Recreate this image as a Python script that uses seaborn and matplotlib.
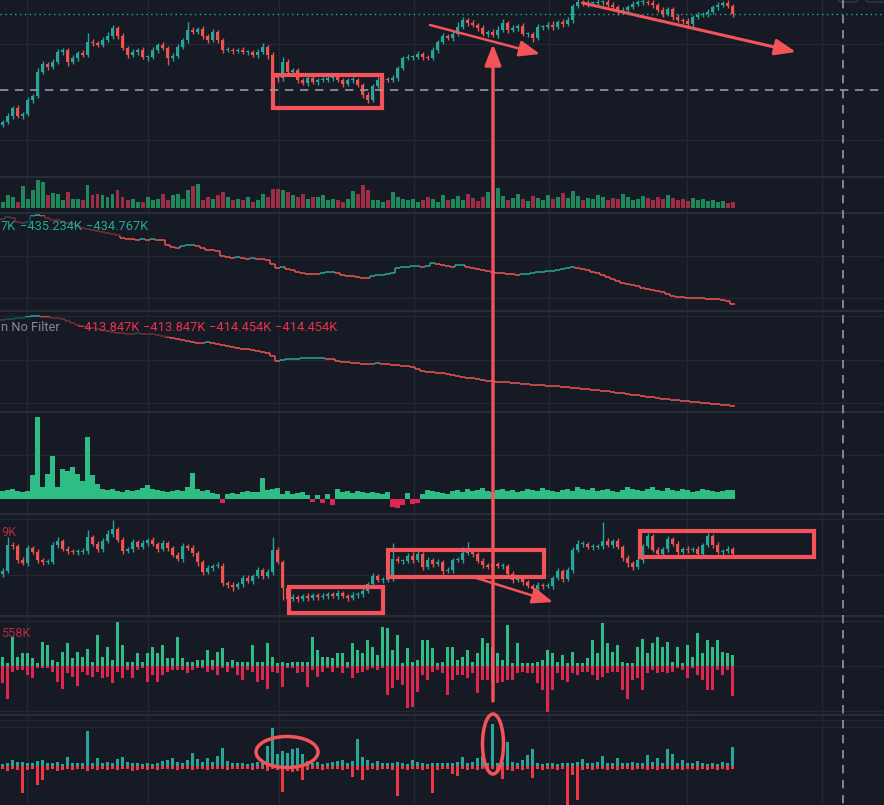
import numpy as np
import pandas as pd
import matplotlib
matplotlib.use("Agg")
import matplotlib.pyplot as plt
import seaborn as sns
from matplotlib.collections import LineCollection
from matplotlib.patches import Rectangle, Ellipse, FancyArrowPatch, FancyBboxPatch

# ---------------- data (arbitrary units) ----------------
price_open0 = 52
price_close = [55,61,69,61,63,77,81,105,113,110, 115,125,127,115,119,124,122,135,134,132,
               137,141,149,141,129,122,125,127,120,120, 127,132,129,119,121,130,137,147,145,148,
               141,137,145,137,127,127,126,127,125,125, 122,125,130,122,102,99,115,105,107,97,
               94,99,95,97,97,99,100,97,93,97, 97,92,82,77,91,97,98,97,99,109,
               119,120,120,123,120,119,127,135,141,139, 143,150,157,154,152,149,143,145,142,147,
               154,147,149,151,143,143,139,150,150,152, 150,155,153,157,171,175,173,174,174,175,
               175,172,170,165,167,170,173,175,175,174, 172,167,163,168,160,157,156,153,160,162,
               163,165,170,172,174,171,163]
price_upwick = [2,3,2,3,2,3,2,4,3,2, 3,3,2,2,3,2,3,9,3,2, 3,4,3,2,3,2,3,2,3,2,
                3,2,3,2,3,3,2,8,3,2, 3,2,3,2,2,3,2,2,3,2, 2,3,4,2,3,2,5,3,2,2,
                2,3,2,2,3,2,2,3,2,2, 3,2,2,3,2,3,2,2,3,2, 2,3,2,3,2,2,3,2,3,2,
                3,5,3,2,3,2,3,2,3,4, 4,2,3,2,3,2,2,3,2,3, 4,2,3,3,2,3,2,3,2,3,
                2,3,3,2,3,2,3,2,3,2, 3,2,3,2,2,3,2,3,2,3, 2,3,2,3,2,3,2]
price_lowick = [2,2,3,2,3,2,3,2,2,3, 2,2,3,4,2,3,2,2,3,2, 2,2,3,3,2,3,2,3,2,4,
                2,3,2,7,3,2,2,3,2,2, 3,3,2,3,3,2,3,2,2,3, 2,3,2,4,5,4,3,2,3,3,
                2,3,2,3,2,2,3,2,3,2, 3,2,3,3,2,2,3,2,2,3, 2,2,3,2,3,2,2,3,2,2,
                3,2,2,3,2,3,2,3,2,3, 2,3,2,3,2,3,4,2,3,2, 3,2,3,2,3,2,2,3,2,2,
                3,2,2,3,2,3,2,2,3,2, 3,2,3,2,3,2,3,2,3,2, 2,3,2,3,2,2,3]
volume = [6,13,11,6,22,9,18,28,26,13, 15,14,8,16,9,9,8,23,13,14, 13,11,14,18,11,8,9,6,6,11,
          8,9,14,8,13,14,9,18,22,24, 8,11,9,13,16,11,8,9,8,11, 6,8,14,11,19,19,18,16,13,11,
          14,9,11,11,13,8,9,8,6,9, 17,14,23,18,8,8,6,8,16,11, 9,8,9,6,8,11,9,6,13,8,
          9,12,8,14,10,7,11,16,9,20, 12,8,10,14,9,7,12,10,8,13, 9,11,15,10,17,12,8,10,9,13,
          11,8,10,9,14,11,8,9,12,10, 8,11,9,13,10,8,9,7,10,8, 9,7,8,6,7,5,6]
line_a = [92,94,93,89,88,89,95,96,95,93, 91,91,89,88,87,85,83,82,81,80,
          79,78,77,76,73,72,72,71,72,71, 72,71,71,66,64,63,65,66,66,65,
          63,61,61,60,55,54,53,54,53,52, 53,52,52,51,47,43,44,42,41,39,
          38,37,37,37,38,39,39,38,36,35, 35,34,33,33,35,36,36,37,38,43,
          44,44,45,45,44,45,48,47,46,45, 44,46,46,44,43,42,41,40,39,38,
          38,37,37,36,37,37,38,39,39,40, 40,41,42,43,44,43,42,41,39,38,
          36,34,32,30,28,27,26,25,23,22, 21,20,19,17,15,14,14,13,13,13,
          13,12,12,12,11,10,7]
line_b = [92,93,93,94,94,95,96,96,95,95, 94,94,93,91,89,87,86,85,84,83,
          82,81,80,79,79,78,78,79,78,78, 78,77,76,75,74,73,72,71,70,69,
          69,70,69,68,67,66,65,64,63,63, 62,61,60,59,56,51,52,53,53,53,
          54,54,54,54,54,53,53,51,50,50, 49,49,48,48,48,49,48,48,47,47,
          46,46,45,43,41,40,40,39,39,38, 37,36,35,34,34,33,32,31,31,30,
          30,30,29,29,28,28,27,27,27,26, 26,26,25,25,24,24,23,23,22,22,
          21,21,20,19,19,18,17,17,16,15, 15,14,13,13,12,12,11,11,10,10,
          9,9,8,8,7,7,6]
flow = [8,9,10,8,7,8,24,82,12,25, 43,12,30,28,32,25,18,62,24,15,
        10,9,10,8,7,9,8,9,11,14, 10,9,8,7,8,9,8,12,26,10,
        8,9,6,5,-4,5,6,5,7,8, 7,7,21,9,10,11,5,8,5,6,
        7,4,-3,4,-4,5,-6,10,7,8, 6,8,7,6,7,6,5,7,-8,-9,
        -6,6,-5,-4,5,9,8,7,6,5, 8,9,7,10,8,9,11,8,7,9,
        10,8,9,7,8,10,9,8,11,9, 8,7,9,10,8,12,10,9,11,8,
        9,10,8,7,9,12,10,9,8,10, 12,9,8,11,9,8,10,9,7,8,
        10,9,8,7,8,9,9]
sub_open0 = 42
sub_close = [45,71,70,56,53,68,64,56,54,54, 71,75,67,65,64,64,65,79,72,67,
             75,82,87,76,65,67,74,69,73,76, 72,67,73,68,61,57,70,68,63,54,
             44,48,50,50,33,31,29,32,38,35, 40,46,40,44,66,54,28,17,19,17,
             20,18,21,19,20,22,20,23,20,18, 21,22,25,32,40,36,36,38,57,55,
             55,60,56,62,49,56,52,54,45,46, 56,56,63,64,62,55,51,49,52,50,
             50,42,36,38,34,30,27,31,30,30, 38,45,37,46,66,72,72,69,69,70,
             75,71,75,69,58,53,49,56,70,80, 66,62,67,77,72,64,67,66,67,62,
             71,80,71,64,65,67,62]
sub_upwick = [3,8,3,2,3,3,2,3,2,3, 3,4,2,3,2,3,3,7,2,3, 3,4,9,2,3,2,3,2,3,2,
              3,2,3,2,2,3,3,2,3,2, 2,3,2,4,3,2,3,2,3,3, 2,3,2,3,13,3,2,2,3,2,
              2,3,2,2,3,2,2,3,2,2, 3,2,3,2,3,2,3,2,16,3, 2,3,4,3,2,3,2,3,2,3,
              2,3,6,10,3,2,3,2,3,2, 3,2,3,2,3,2,2,3,2,3, 2,3,2,3,3,4,3,2,3,2,
              19,3,2,3,2,3,2,3,2,3, 2,3,2,3,2,3,2,3,2,3, 2,3,2,3,2,3,2]
sub_lowick = [3,2,3,3,2,3,2,3,3,2, 2,3,2,3,2,3,2,3,2,3, 3,2,3,2,3,2,3,2,2,3,
              2,3,2,3,2,2,3,2,3,4, 3,2,3,2,3,3,4,2,3,2, 3,2,3,2,3,2,12,3,2,3,
              2,3,2,3,2,3,2,3,2,3, 2,3,3,2,3,2,3,2,3,2, 3,2,3,2,3,2,3,2,3,2,
              3,2,3,2,3,2,3,2,3,2, 3,2,3,2,3,2,3,2,3,2, 3,2,3,2,3,2,3,2,3,2,
              3,2,3,2,3,4,3,2,3,2, 2,3,2,3,2,3,2,3,2,3, 3,2,3,2,3,2,2]
delta_buy = [9,3,29,9,13,13,8,3,24,21, 6,4,14,23,8,14,9,17,4,31, 9,19,6,44,21,4,4,13,4,13,
             19,13,21,8,8,29,8,4,4,6, 6,16,6,14,18,4,6,4,4,4, 21,4,4,23,9,3,4,3,4,4,
             4,4,29,16,9,9,8,13,13,4, 23,16,13,26,19,11,39,38,16,31, 3,18,4,6,26,26,18,3,4,19,
             19,6,9,16,4,13,28,23,19,13, 6,41,3,23,3,3,3,4,6,16, 13,4,11,3,14,3,3,8,26,13,
             43,23,14,21,4,3,3,19,27,13, 23,29,19,24,4,19,3,21,9,33, 13,26,19,26,14,13,11]
delta_sell = [17,33,6,4,4,9,12,2,2,2, 6,16,23,7,11,20,6,9,11,6, 12,11,17,6,12,4,12,4,2,16,
              9,16,9,6,4,4,4,7,4,2, 2,6,4,9,2,6,2,9,14,4, 6,16,14,23,6,7,21,2,2,7,
              6,21,4,11,6,2,6,2,7,2, 12,7,6,4,2,4,2,29,22,14, 19,42,41,26,9,14,6,4,7,29,
              14,9,9,12,7,27,14,14,16,17, 16,14,14,7,6,7,7,17,24,46, 24,7,14,16,7,9,6,6,9,14,
              11,7,6,6,24,33,14,12,24,7, 4,7,6,7,6,2,4,12,2,9, 14,24,24,4,9,4,30]
spike_buy = [2,3,6,4,4,3,3,5,6,3, 3,4,2,9,3,3,3,35,3,8, 3,4,3,7,9,4,3,3,2,3,
             2,3,5,6,8,4,3,6,13,7, 4,8,4,10,18,5,3,3,3,2, 3,4,3,20,38,12,15,13,17,18,
             12,5,3,4,2,3,4,5,6,3, 5,27,9,6,3,5,3,3,3,4, 3,2,6,4,3,2,3,3,3,3,
             3,4,9,3,4,8,10,3,42,3, 4,24,4,3,6,11,17,3,2,3, 3,2,3,3,3,4,7,3,3,4,
             10,3,3,8,3,3,4,3,3,11, 4,8,3,17,12,3,6,3,3,5, 3,2,3,2,4,3,19]
spike_sell = [3,5,3,4,27,4,3,19,14,4, 3,5,4,3,4,3,3,5,3,4, 3,4,3,4,3,3,5,4,3,4,
              3,4,3,3,3,4,3,3,4,3, 3,4,3,3,3,4,3,3,3,3, 4,3,3,5,3,4,26,5,6,5,
              14,4,3,3,4,3,3,3,4,3, 11,4,14,4,3,4,3,3,4,30, 3,4,3,3,4,3,27,4,3,3,
              8,10,3,4,3,4,3,4,3,4, 13,4,5,3,4,3,12,3,4,3, 3,4,3,39,9,34,4,3,4,3,
              3,4,3,4,3,3,4,3,3,4, 3,4,3,3,4,3,4,3,3,4, 3,4,3,4,3,4,3]

legend_a = ["7K", "\u2212435.234K", "\u2212434.767K"]
legend_b_name = "n No Filter"
legend_b = ["\u2212413.847K", "\u2212413.847K", "\u2212414.454K", "\u2212414.454K"]
legend_c = "9K"
legend_d = "558K"

# ---------------- style ----------------
W, H = 884, 805
BG = "#161a25"
GRID = "#232733"
SEP = "#2a2e39"
UP, DN = "#26a69a", "#ef5350"
VUP, VDN = "#1e8a5c", "#9e2e45"
MINT, CRIM = "#2dbd85", "#e0264e"
DRAW = "#f5535a"

sns.set_theme(style="dark", rc={"axes.facecolor": BG, "figure.facecolor": BG,
                                "savefig.facecolor": BG})
plt.rcParams["font.family"] = ["Roboto", "DejaVu Sans"]

fig = plt.figure(figsize=(W / 100, H / 100), dpi=100)

# background: grid + pane separators (pixel coordinates)
bg = fig.add_axes([0, 0, 1, 1])
bg.set_xlim(0, W); bg.set_ylim(H, 0); bg.axis("off"); bg.set_zorder(0)
bg.add_patch(Rectangle((0, 0), W, H, color=BG, zorder=0))
for gx in [27, 148, 279, 414, 549, 687, 822]:
    bg.plot([gx, gx], [0, H], color=GRID, lw=1.0, zorder=1)
for gy in [44, 140, 256, 298, 316, 360, 403, 455, 519, 575, 621, 666, 711, 720, 727]:
    bg.plot([0, W], [gy, gy], color=GRID, lw=1.0, zorder=1)
for sy in [177, 213, 311, 412, 514, 616, 715]:
    bg.plot([0, W], [sy, sy], color=SEP, lw=1.4, zorder=2)

N = len(price_close)
idx = np.arange(N)
XLIM = (-0.5, W / 5 - 0.5)


def pane(top, bottom, ylim):
    ax = fig.add_axes([0, 1 - bottom / H, 1, (bottom - top) / H])
    ax.set_facecolor("none")
    ax.set_xlim(*XLIM)
    ax.set_ylim(*ylim)
    ax.axis("off")
    ax.set_zorder(1)
    return ax


def candles(ax, open0, close, upw, low):
    close = np.asarray(close, float)
    opn = np.concatenate([[open0], close[:-1]])
    hi = np.maximum(opn, close) + np.asarray(upw)
    lo = np.minimum(opn, close) - np.asarray(low)
    col = np.where(close >= opn, UP, DN)
    ax.vlines(idx, lo, hi, colors=col, lw=1.0)
    body = np.maximum(np.abs(close - opn), 0.8)
    ax.bar(idx, body, bottom=np.minimum(opn, close), width=0.78, color=col, linewidth=0)
    return close >= opn


def bars(ax, xs, vals, keys, palette, width=0.8):
    df = pd.DataFrame({"x": xs, "v": vals, "k": keys})
    sns.barplot(data=df, x="x", y="v", hue="k", palette=palette, dodge=False,
                native_scale=True, legend=False, width=width, saturation=1,
                errorbar=None, linewidth=0, ax=ax)
    ax.set_xlim(*XLIM)
    ax.set_xlabel(""); ax.set_ylabel("")
    ax.axis("off")


def step_line(ax, vals, lw=1.1):
    segs, cols = [], []
    prev = DN
    for i in range(N):
        if i == 0:
            c = prev
        else:
            c = UP if vals[i] > vals[i - 1] else (DN if vals[i] < vals[i - 1] else prev)
            segs.append([(i - 0.5, vals[i - 1]), (i - 0.5, vals[i])]); cols.append(c)
        segs.append([(i - 0.5, vals[i]), (i + 0.5, vals[i])]); cols.append(c)
        prev = c
    ax.add_collection(LineCollection(segs, colors=cols, linewidths=lw))


# pane 1: price candles
ax1 = pane(0, 177, (0, 177))
up1 = candles(ax1, price_open0, price_close, price_upwick, price_lowick)

# pane 2: volume
ax2 = pane(177, 213, (-5, 31))
bars(ax2, idx, volume, np.where(up1, "u", "d"), {"u": VUP, "d": VDN}, width=0.8)
ax2.set_ylim(-5, 31)

# pane 3 / 4: step lines
ax3 = pane(213, 311, (0, 98))
step_line(ax3, line_a)
ax4 = pane(311, 412, (0, 101))
step_line(ax4, line_b)

# pane 5: flow histogram
ax5 = pane(412, 514, (-15, 87))
fl = np.asarray(flow)
bars(ax5, idx, fl, np.where(fl >= 0, "u", "d"), {"u": MINT, "d": CRIM}, width=0.85)
ax5.set_ylim(-15, 87)

# pane 6: second candles
ax6 = pane(514, 616, (0, 102))
candles(ax6, sub_open0, sub_close, sub_upwick, sub_lowick)

# pane 7: delta histogram (buy up / sell down)
ax7 = pane(616, 715, (-49, 50))
xs7 = np.concatenate([idx, idx])
v7 = np.concatenate([np.asarray(delta_buy), -np.asarray(delta_sell)])
k7 = ["u"] * N + ["d"] * N
bars(ax7, xs7, v7, k7, {"u": MINT, "d": CRIM}, width=0.7)
ax7.set_ylim(-49, 50)

# pane 8: spikes histogram
ax8 = pane(715, 805, (-39, 51))
v8 = np.concatenate([np.asarray(spike_buy), -np.asarray(spike_sell)])
bars(ax8, xs7, v8, k7, {"u": UP, "d": "#f23645"}, width=0.7)
ax8.set_ylim(-39, 51)

# ---------------- overlay: drawings, crosshair, legends ----------------
ov = fig.add_axes([0, 0, 1, 1])
ov.set_xlim(0, W); ov.set_ylim(H, 0); ov.axis("off"); ov.set_facecolor("none")
ov.set_zorder(5)

# price line and crosshair
ov.plot([0, W], [14.5, 14.5], color="#22ab94", lw=1.0, ls=(0, (1, 2.5)))
ov.plot([0, W], [90, 90], color="#9598a1", lw=1.2, ls=(0, (5, 4)))
ov.plot([843, 843], [0, H], color="#9598a1", lw=1.2, ls=(0, (5, 4)))

# top-right buttons (partially visible)
for bx, bw in [(838, 21), (865, 25)]:
    ov.add_patch(FancyBboxPatch((bx, -12), bw, 14, boxstyle="round,pad=0,rounding_size=4",
                                fc="none", ec="#363a45", lw=1))

# rectangles
for (rx, ry, rw, rh) in [(273, 75, 109, 33), (289, 587, 94, 26), (388, 550, 156, 27),
                         (640, 531, 174, 26)]:
    ov.add_patch(Rectangle((rx, ry), rw, rh, fill=False, ec=DRAW, lw=3.0, joinstyle="miter"))

# arrows
arrow_kw = dict(arrowstyle="-|>,head_length=0.9,head_width=0.35", mutation_scale=14,
                color=DRAW, shrinkA=0, shrinkB=0)
ov.add_patch(FancyArrowPatch((430, 25), (540, 54), lw=1.8, **arrow_kw))
ov.add_patch(FancyArrowPatch((583, 3), (796, 52), lw=2.2, **arrow_kw))
ov.add_patch(FancyArrowPatch((470, 576), (553, 602), lw=1.8, **arrow_kw))
ov.add_patch(FancyArrowPatch((493, 701), (493, 44), lw=2.4, **arrow_kw))

# ellipses
ov.add_patch(Ellipse((287, 752), 62, 31, fill=False, ec=DRAW, lw=2.5))
ov.add_patch(Ellipse((493, 744), 21, 60, fill=False, ec=DRAW, lw=2.5))

# legend backgrounds (dim the lines under them)
ov.add_patch(Rectangle((0, 216), 150, 20, color=BG, alpha=0.6, lw=0))
ov.add_patch(Rectangle((0, 317), 338, 20, color=BG, alpha=0.6, lw=0))

fs = 9.3
ov.text(1, 226, legend_a[0], color="#22ab94", fontsize=fs, va="center", ha="left")
ov.text(20, 226, legend_a[1], color="#22ab94", fontsize=fs, va="center", ha="left")
ov.text(86, 226, legend_a[2], color="#22ab94", fontsize=fs, va="center", ha="left")
ov.text(1, 327, legend_b_name, color="#878a93", fontsize=fs, va="center", ha="left")
for xx, s in zip([77, 143, 209, 275], legend_b):
    ov.text(xx, 327, s, color="#e8334a", fontsize=fs, va="center", ha="left")
ov.text(1, 532, legend_c, color="#b52a3f", fontsize=fs, va="center", ha="left")
ov.text(1, 633, legend_d, color="#b52a48", fontsize=fs, va="center", ha="left")

fig.savefig("out.png", dpi=100, facecolor=BG)
